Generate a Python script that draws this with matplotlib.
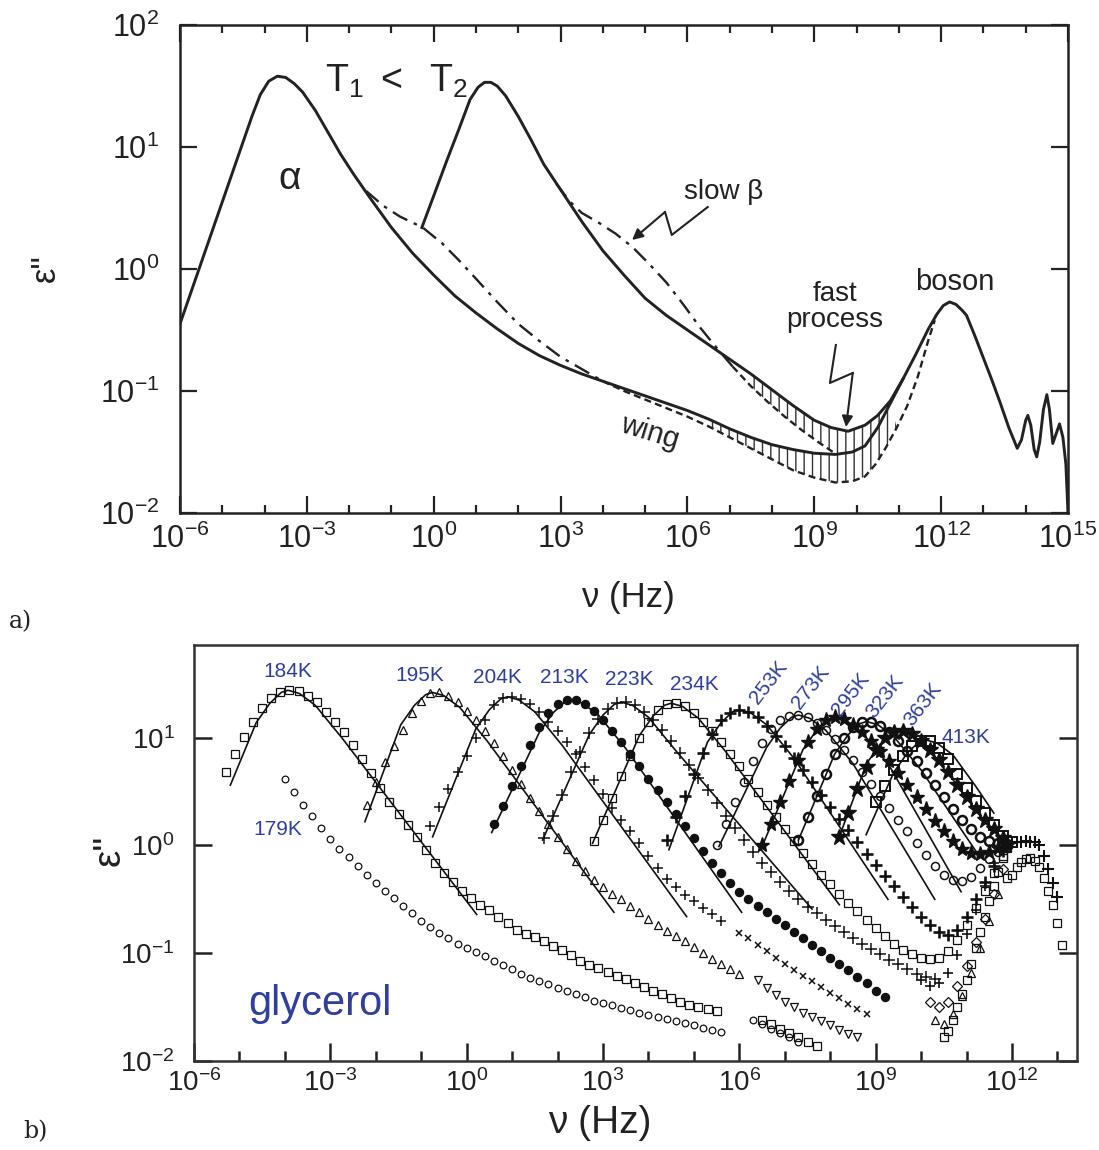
import numpy as np
import matplotlib
matplotlib.use("Agg")
import matplotlib.pyplot as plt
from matplotlib.patches import Polygon
from matplotlib.ticker import FixedLocator, FuncFormatter, NullFormatter

plt.rcParams['font.family'] = ['Liberation Sans', 'DejaVu Sans']
plt.rcParams['mathtext.fontset'] = 'custom'
plt.rcParams['mathtext.rm'] = 'Liberation Sans'
plt.rcParams['mathtext.it'] = 'Liberation Sans:italic'
plt.rcParams['mathtext.default'] = 'regular'
plt.rcParams['hatch.linewidth'] = 1.0

# ---------------------------------------------------------------------------
# Panel a: schematic loss spectra (log10 nu, log10 eps'')
# ---------------------------------------------------------------------------
t1_lognu = [-6.0, -5.5, -5.0, -4.6, -4.3, -4.1, -3.9, -3.7, -3.5, -3.3, -3.1, -2.8, -2.5, -2.2, -1.9,
            -1.5, -1.0, -0.5, 0.0, 0.5, 1.0, 1.5, 2.0, 2.5, 3.0, 3.5, 4.0, 4.5, 5.0, 5.5, 6.0, 6.5,
            7.0, 7.5, 8.0, 8.5, 9.0, 9.5, 9.9, 10.2, 10.5, 10.8, 11.1, 11.4, 11.7, 11.9, 12.05, 12.2,
            12.35, 12.5, 12.6, 12.8, 13.0, 13.2, 13.4, 13.6, 13.8, 13.9, 14.0, 14.05, 14.12, 14.2,
            14.26, 14.33, 14.42, 14.5, 14.56, 14.64, 14.72, 14.8, 14.88, 14.95, 15.0]
t1_logeps = [-0.45, 0.05, 0.55, 0.95, 1.25, 1.43, 1.54, 1.58, 1.57, 1.52, 1.45, 1.30, 1.12, 0.94, 0.78,
             0.58, 0.34, 0.13, -0.05, -0.22, -0.36, -0.49, -0.61, -0.71, -0.79, -0.86, -0.92, -0.98,
             -1.04, -1.10, -1.16, -1.23, -1.31, -1.38, -1.44, -1.48, -1.51, -1.52, -1.50, -1.45, -1.30,
             -1.10, -0.90, -0.70, -0.49, -0.37, -0.30, -0.27, -0.29, -0.34, -0.38, -0.55, -0.73, -0.91,
             -1.10, -1.30, -1.47, -1.40, -1.24, -1.20, -1.28, -1.48, -1.54, -1.42, -1.15, -1.03, -1.15,
             -1.43, -1.35, -1.27, -1.38, -1.60, -2.0]

t2_lognu = [-0.28, 0.0, 0.3, 0.6, 0.86, 1.05, 1.2, 1.35, 1.5, 1.7, 2.0, 2.3, 2.6, 3.0, 3.5, 4.0, 4.5,
            5.0, 5.5, 6.0, 6.5, 7.0, 7.5, 8.0, 8.5, 9.0, 9.4, 9.8, 10.2, 10.5, 10.8, 11.1]
t2_logeps = [0.34, 0.60, 0.88, 1.15, 1.39, 1.49, 1.53, 1.53, 1.50, 1.42, 1.25, 1.06, 0.86, 0.65, 0.39,
             0.15, -0.05, -0.24, -0.38, -0.50, -0.62, -0.74, -0.86, -0.99, -1.12, -1.24, -1.30, -1.33,
             -1.28, -1.20, -1.08, -0.90]

# slow beta contributions (dash-dot) and spectra without fast process (dashed)
t1_beta_lognu = [-1.6, -1.2, -0.8, -0.26, 0.2, 0.6, 1.0, 1.5, 2.0, 2.5, 3.0, 3.5, 4.0]
t1_beta_logeps = [0.64, 0.52, 0.43, 0.34, 0.21, 0.07, -0.08, -0.27, -0.45, -0.59, -0.72, -0.82, -0.92]
t1_nofast_lognu = [4.0, 4.5, 5.0, 5.5, 6.0, 6.5, 7.0, 7.5, 8.0, 8.5, 9.0, 9.5, 9.9, 10.2, 10.45, 10.7,
                   10.95, 11.2, 11.45, 11.7, 11.85]
t1_nofast_logeps = [-0.92, -1.00, -1.07, -1.14, -1.21, -1.29, -1.38, -1.47, -1.56, -1.65, -1.71, -1.75,
                    -1.74, -1.70, -1.60, -1.46, -1.30, -1.12, -0.88, -0.58, -0.42]
t2_beta_lognu = [2.9, 3.2, 3.5, 3.9, 4.3, 4.7, 5.1, 5.5, 5.9, 6.3, 6.7, 7.07]
t2_beta_logeps = [0.70, 0.56, 0.46, 0.38, 0.29, 0.18, 0.04, -0.11, -0.29, -0.48, -0.65, -0.80]
t2_nofast_lognu = [7.07, 7.5, 7.9, 8.3, 8.7, 9.1, 9.44]
t2_nofast_logeps = [-0.80, -0.96, -1.09, -1.21, -1.32, -1.42, -1.50]

# ---------------------------------------------------------------------------
# Panel b: glycerol loss spectra; each set starts at log10(nu0) on a 0.2-decade grid
# ---------------------------------------------------------------------------
STEP = 0.2
g179_start, g179 = -4.0, [0.62, 0.50, 0.38, 0.27, 0.16, 0.06, -0.03, -0.11, -0.19, -0.27, -0.35, -0.42,
                          -0.49, -0.56, -0.63, -0.70, -0.76, -0.81, -0.86, -0.91, -0.95, -0.99, -1.03,
                          -1.07, -1.11, -1.15, -1.19, -1.23, -1.26, -1.29, -1.32, -1.35, -1.38, -1.41,
                          -1.44, -1.46, -1.48, -1.51, -1.53, -1.55, -1.57, -1.59, -1.61, -1.63, -1.65,
                          -1.67, -1.69, -1.71, -1.73]
g179hf_start, g179hf = 6.3, [-1.62, -1.66, -1.70, -1.74, -1.78, -1.82]
g184_start, g184 = -5.3, [0.68, 0.85, 1.01, 1.15, 1.28, 1.37, 1.42, 1.44, 1.43, 1.39, 1.33, 1.24, 1.15,
                          1.05, 0.93, 0.80, 0.67, 0.53, 0.40, 0.29, 0.19, 0.08, -0.04, -0.16, -0.26,
                          -0.34, -0.42, -0.49, -0.55, -0.60, -0.66, -0.72, -0.78, -0.82, -0.85, -0.89,
                          -0.93, -0.97, -1.02, -1.07, -1.11, -1.14, -1.17, -1.21, -1.24, -1.28, -1.31,
                          -1.35, -1.38, -1.42, -1.45, -1.48, -1.50, -1.52, -1.54]
g184hf_start, g184hf = 6.5, [-1.62, -1.66, -1.70, -1.74, -1.78, -1.82, -1.86]
g195_start, g195 = -2.2, [0.38, 0.59, 0.77, 0.92, 1.07, 1.23, 1.34, 1.41, 1.42, 1.39, 1.33, 1.25, 1.16,
                          1.06, 0.95, 0.83, 0.70, 0.57, 0.44, 0.32, 0.20, 0.08, -0.03, -0.14, -0.24,
                          -0.32, -0.39, -0.45, -0.50, -0.56, -0.62, -0.68, -0.74, -0.79, -0.84, -0.89,
                          -0.94, -1.00, -1.05, -1.10, -1.15, -1.19]
g195hf_start, g195hf = 6.4, [-1.25, -1.32, -1.39, -1.45, -1.50, -1.55, -1.59, -1.63, -1.67, -1.71,
                             -1.75, -1.78]
g204_start, g204 = -0.8, [0.18, 0.36, 0.52, 0.68, 0.83, 1.00, 1.16, 1.30, 1.37, 1.38, 1.36, 1.31, 1.24,
                          1.15, 1.06, 0.96, 0.85, 0.73, 0.61, 0.48, 0.35, 0.24, 0.13, 0.02, -0.10,
                          -0.21, -0.31, -0.39, -0.46, -0.52, -0.58, -0.64, -0.70]
g204hf_start, g204hf = 6.0, [-0.81, -0.86, -0.92, -0.98, -1.04, -1.10, -1.16, -1.21, -1.26, -1.31,
                             -1.37, -1.42, -1.47, -1.52, -1.56]
g213_start, g213 = 0.6, [0.20, 0.37, 0.55, 0.74, 0.93, 1.10, 1.23, 1.31, 1.35, 1.35, 1.31, 1.25, 1.16,
                         1.06, 0.96, 0.85, 0.74, 0.62, 0.51, 0.40, 0.29, 0.18, 0.07, -0.05, -0.16,
                         -0.26, -0.35, -0.43, -0.50, -0.56, -0.62, -0.68, -0.74, -0.80, -0.86, -0.92,
                         -0.98, -1.04, -1.10, -1.16, -1.22, -1.28, -1.35, -1.41]
g223_start, g223 = 1.7, [0.07, 0.27, 0.47, 0.68, 0.87, 1.04, 1.17, 1.27, 1.32, 1.33, 1.30, 1.24, 1.16,
                         1.07, 0.97, 0.86, 0.75, 0.63, 0.51, 0.39, 0.27, 0.16, 0.05, -0.06, -0.16,
                         -0.25, -0.34, -0.42, -0.50, -0.57, -0.63, -0.69, -0.75, -0.80, -0.86, -0.91,
                         -0.96, -1.01, -1.06, -1.10, -1.15, -1.19, -1.22, -1.24]
g234_start, g234 = 2.8, [0.04, 0.24, 0.44, 0.64, 0.83, 1.00, 1.15, 1.26, 1.31, 1.32, 1.29, 1.23, 1.15,
                         1.06, 0.96, 0.85, 0.74, 0.62, 0.50, 0.38, 0.26, 0.15, 0.04, -0.07, -0.17,
                         -0.27, -0.36, -0.45, -0.53, -0.61, -0.69, -0.77, -0.84, -0.91, -0.97, -1.01,
                         -1.04, -1.05, -1.04, -0.98, -0.88, -0.74, -0.58, -0.42, -0.26, -0.10]
g253_start, g253 = 4.4, [0.05, 0.26, 0.46, 0.66, 0.86, 1.03, 1.16, 1.23, 1.26, 1.24, 1.19, 1.11, 1.02,
                         0.92, 0.81, 0.70, 0.59, 0.47, 0.36, 0.25, 0.14, 0.03, -0.08, -0.18, -0.28,
                         -0.38, -0.48, -0.57, -0.66, -0.74, -0.80, -0.83, -0.78, -0.66, -0.50, -0.34,
                         -0.19, -0.05]
g273_start, g273 = 5.5, [0.0, 0.2, 0.4, 0.59, 0.78, 0.95, 1.08, 1.16, 1.20, 1.21, 1.19, 1.14, 1.07,
                         0.99, 0.89, 0.79, 0.68, 0.57, 0.46, 0.35, 0.24, 0.13, 0.02, -0.09, -0.19,
                         -0.27, -0.32, -0.33, -0.29, -0.21, -0.13, -0.06, -0.02]
g295_start, g295 = 6.5, [0.0, 0.2, 0.4, 0.6, 0.79, 0.96, 1.08, 1.16, 1.19, 1.17, 1.12, 1.05, 0.97,
                         0.88, 0.78, 0.67, 0.56, 0.45, 0.34, 0.23, 0.13, 0.04, -0.03, -0.07, -0.08,
                         -0.06, -0.02, 0.0]
g323_start, g323 = 7.3, [0.05, 0.26, 0.46, 0.66, 0.85, 1.0, 1.10, 1.15, 1.15, 1.11, 1.05, 0.97, 0.88,
                         0.78, 0.67, 0.56, 0.45, 0.34, 0.24, 0.15, 0.08, 0.04, 0.02, 0.01]
g363_start, g363 = 8.2, [0.08, 0.3, 0.52, 0.73, 0.89, 1.0, 1.05, 1.06, 1.03, 0.97, 0.89, 0.79, 0.68,
                         0.56, 0.45, 0.34, 0.24, 0.15, 0.07]
g413_start, g413 = 9.0, [0.40, 0.55, 0.70, 0.83, 0.92, 0.97, 0.97, 0.90, 0.80, 0.66, 0.53, 0.41, 0.30,
                         0.19, 0.09, 0.03]

# far-infrared / THz data
STEP_FIR = 0.1
fir_sq_start, fir_sq = 10.5, [-1.78, -1.72, -1.62, -1.50, -1.38, -1.25, -1.10, -0.95, -0.80, -0.66,
                              -0.52, -0.38, -0.25, -0.12, -0.02]
fir_dia_start, fir_dia = 10.2, [-1.45, -1.50, -1.45, -1.30, -1.12, -0.90, -0.68, -0.45, -0.22]
fir_tri_start, fir_tri = 10.3, [-1.62, -1.66, -1.56, -1.40, -1.18, -0.95, -0.70, -0.45]
fir_plus_start, fir_plus = 10.0, [-1.25, -1.30, -1.28, -1.18, -1.02, -0.82, -0.60, -0.38, -0.16]
thz_plus_start, thz_plus = 11.9, [0.0, 0.02, 0.03, 0.03, 0.04, 0.03, 0.03, 0.0, -0.1, -0.22, -0.35,
                                  -0.48]
thz_sq_start, thz_sq = 11.9, [-0.30, -0.27, -0.20, -0.15, -0.13, -0.12, -0.14, -0.20, -0.30, -0.42,
                              -0.55, -0.72, -0.92]

# model fits (log10 nu, log10 eps'')
fits = {
    184: ([-5.2, -4.63, -4.33, -4.08, -3.93, -3.68, -3.33, -2.73, 0.22],
          [0.56, 1.14, 1.32, 1.42, 1.44, 1.41, 1.30, 0.99, -0.64]),
    195: ([-2.24, -1.45, -1.15, -0.9, -0.75, -0.5, -0.15, 0.45, 3.24],
          [0.22, 1.12, 1.30, 1.40, 1.42, 1.39, 1.28, 0.97, -0.62]),
    204: ([-0.75, 0.2, 0.5, 0.75, 0.9, 1.15, 1.5, 2.1, 4.84],
          [0.08, 1.08, 1.26, 1.36, 1.38, 1.35, 1.24, 0.93, -0.66]),
    213: ([0.55, 1.6, 1.9, 2.15, 2.3, 2.55, 2.9, 3.5, 6.05],
          [0.12, 1.05, 1.23, 1.33, 1.35, 1.32, 1.21, 0.90, -0.62]),
    223: ([1.67, 2.7, 3.0, 3.25, 3.4, 3.65, 4.0, 4.6, 7.6],
          [0.05, 1.03, 1.21, 1.31, 1.33, 1.30, 1.19, 0.88, -0.59]),
    234: ([2.77, 3.8, 4.1, 4.35, 4.5, 4.75, 5.1, 5.7, 8.2],
          [0.02, 1.02, 1.20, 1.30, 1.32, 1.29, 1.18, 0.87, -0.55]),
    253: ([4.45, 5.3, 5.6, 5.85, 6.0, 6.25, 6.6, 7.2, 9.27],
          [-0.04, 0.96, 1.14, 1.24, 1.26, 1.23, 1.12, 0.81, -0.50]),
    273: ([5.55, 6.6, 6.9, 7.15, 7.3, 7.55, 7.9, 8.5, 10.3],
          [-0.01, 0.91, 1.09, 1.19, 1.21, 1.18, 1.07, 0.76, -0.50]),
    295: ([6.53, 7.4, 7.7, 7.95, 8.1, 8.35, 8.7, 9.3, 10.88],
          [0.02, 0.89, 1.07, 1.17, 1.19, 1.16, 1.05, 0.74, -0.43]),
    323: ([7.3, 8.1, 8.4, 8.65, 8.8, 9.05, 9.4, 10.0, 11.2],
          [0.05, 0.85, 1.03, 1.13, 1.15, 1.12, 1.01, 0.70, -0.05]),
    363: ([8.18, 8.8, 9.1, 9.35, 9.5, 9.75, 10.1, 10.7, 11.4],
          [0.06, 0.76, 0.94, 1.04, 1.06, 1.03, 0.92, 0.61, 0.22]),
    413: ([8.79, 9.4, 9.7, 9.95, 10.1, 10.35, 10.7, 11.2, 11.6],
          [0.10, 0.68, 0.86, 0.96, 0.98, 0.95, 0.84, 0.55, 0.30]),
}

temp_labels = ['184K', '195K', '204K', '213K', '223K', '234K', '253K', '273K', '295K', '323K',
               '363K', '413K', '179K']
label_lognu = [-3.93, -1.03, 0.68, 2.15, 3.57, 5.0, 6.64, 7.56, 8.46, 9.21, 10.04, 10.98, -4.15]
label_logeps = [1.61, 1.58, 1.56, 1.56, 1.54, 1.49, 1.51, 1.47, 1.40, 1.38, 1.31, 1.0, 0.15]
label_rot = [0, 0, 0, 0, 0, 0, 52, 52, 52, 52, 52, 0, 0]

BLUE = '#2f3f9e'


def lg(v):
    return 10.0 ** np.asarray(v, dtype=float)


def grid(start, n, step):
    return 10.0 ** (start + step * np.arange(n))


def sci(v, pos):
    return r'$10^{%d}$' % int(round(np.log10(v)))


fig = plt.figure(figsize=(10.99, 11.5), dpi=100)

# ------------------------------- panel a ----------------------------------
ax1 = fig.add_axes([180 / 1099, 1 - 513 / 1150, 888 / 1099, 488 / 1150])
ax1.set_xscale('log')
ax1.set_yscale('log')
ax1.set_xlim(1e-6, 1e15)
ax1.set_ylim(1e-2, 1e2)

INK = '#222222'
lw = 2.1
ax1.plot(lg(t1_lognu), lg(t1_logeps), color=INK, lw=lw, solid_joinstyle='round')
ax1.plot(lg(t2_lognu), lg(t2_logeps), color=INK, lw=lw, solid_joinstyle='round')
dashdot = (0, (7, 3, 1.5, 3))
ax1.plot(lg(t1_beta_lognu), lg(t1_beta_logeps), color=INK, lw=1.7, linestyle=dashdot)
ax1.plot(lg(t2_beta_lognu), lg(t2_beta_logeps), color=INK, lw=1.7, linestyle=dashdot)
ax1.plot(lg(t1_nofast_lognu), lg(t1_nofast_logeps), color=INK, lw=1.7, linestyle=(0, (3, 1.8)))
ax1.plot(lg(t2_nofast_lognu), lg(t2_nofast_logeps), color=INK, lw=1.7, linestyle=(0, (3, 1.8)))

# hatched regions: contribution of the fast process
t1x, t1y = np.array(t1_lognu), np.array(t1_logeps)
t2x, t2y = np.array(t2_lognu), np.array(t2_logeps)
n2x, n2y = np.array(t2_nofast_lognu), np.array(t2_nofast_logeps)
n1x, n1y = np.array(t1_nofast_lognu), np.array(t1_nofast_logeps)

m = (t2x >= 7.5) & (t2x <= 10.8)
top = np.column_stack([t2x[m], t2y[m]])
mb1 = (n2x >= 7.5)
mb2 = (t1x > 9.44) & (t1x <= 10.8)
bot = np.vstack([np.column_stack([n2x[mb1], n2y[mb1]]), np.column_stack([t1x[mb2], t1y[mb2]])])
poly = np.vstack([top, bot[::-1]])
ax1.add_patch(Polygon(10.0 ** poly, closed=True, fill=False, hatch='||', edgecolor='#333333', lw=0))

m = (t1x >= 6.5) & (t1x <= 10.95)
top = np.column_stack([t1x[m], t1y[m]])
mb = (n1x >= 6.5) & (n1x <= 10.95)
bot = np.column_stack([n1x[mb], n1y[mb]])
poly = np.vstack([top, bot[::-1]])
ax1.add_patch(Polygon(10.0 ** poly, closed=True, fill=False, hatch='||', edgecolor='#333333', lw=0))

ax1.xaxis.set_major_locator(FixedLocator(10.0 ** np.arange(-6, 16, 3)))
ax1.xaxis.set_minor_locator(FixedLocator(10.0 ** np.arange(-6, 16, 1)))
ax1.xaxis.set_major_formatter(FuncFormatter(sci))
ax1.xaxis.set_minor_formatter(NullFormatter())
ax1.yaxis.set_major_locator(FixedLocator(10.0 ** np.arange(-2, 3)))
ax1.yaxis.set_minor_locator(FixedLocator([]))
ax1.yaxis.set_major_formatter(FuncFormatter(sci))
ax1.tick_params(which='both', direction='in', top=True, right=True, width=1.6, colors=INK)
ax1.tick_params(which='major', length=12, labelsize=22)
ax1.tick_params(which='minor', length=6)
ax1.tick_params(axis='x', pad=8)
ax1.tick_params(axis='y', pad=15)
for s in ax1.spines.values():
    s.set_linewidth(1.8)
    s.set_color(INK)

ax1.text(10 ** -2.57, 10 ** 1.45, r'$T_1\ <\ \ T_2$', fontsize=27, ha='left', va='baseline', color=INK)
ax1.text(10 ** -3.4, 10 ** 0.74, 'α', fontsize=28, ha='center', va='center', color=INK)
ax1.text(10 ** 6.85, 10 ** 0.63, 'slow β', fontsize=20, ha='center', va='center', color=INK)
ax1.text(10 ** 9.48, 10 ** -0.31, 'fast\nprocess', fontsize=20, ha='center', va='center',
         linespacing=1.0, color=INK)
ax1.text(10 ** 12.32, 10 ** -0.11, 'boson', fontsize=21, ha='center', va='center', color=INK)
ax1.text(10 ** 5.11, 10 ** -1.34, 'wing', fontsize=21, ha='center', va='center', rotation=-17, color=INK)

# squiggly pointers
sq1x, sq1y = [6.48, 5.63, 5.47], [0.508, 0.279, 0.467]
ax1.plot(lg(sq1x), lg(sq1y), color=INK, lw=1.5)
ax1.annotate('', xy=(10 ** 4.69, 10 ** 0.238), xytext=(10 ** 5.47, 10 ** 0.467),
             arrowprops=dict(arrowstyle='-|>', color=INK, lw=1.5, mutation_scale=16,
                             shrinkA=0, shrinkB=0))
sq2x, sq2y = [9.51, 9.37, 9.91], [-0.623, -0.934, -0.852]
ax1.plot(lg(sq2x), lg(sq2y), color=INK, lw=1.5)
ax1.annotate('', xy=(10 ** 9.75, 10 ** -1.295), xytext=(10 ** 9.91, 10 ** -0.852),
             arrowprops=dict(arrowstyle='-|>', color=INK, lw=1.5, mutation_scale=16,
                             shrinkA=0, shrinkB=0))

fig.text(628 / 1099, 1 - 598 / 1150, 'ν (Hz)', fontsize=25, ha='center', va='center', color=INK)
fig.text(45 / 1099, 1 - 268 / 1150, 'ε"', fontsize=25, rotation=90, ha='center', va='center',
         color=INK)
fig.text(20 / 1099, 1 - 622 / 1150, 'a)', fontsize=17, family='DejaVu Serif', ha='center',
         va='center', color=INK)

# ------------------------------- panel b ----------------------------------
ax2 = fig.add_axes([194 / 1099, 1 - 1061 / 1150, 883 / 1099, 416 / 1150])
ax2.set_xscale('log')
ax2.set_yscale('log')
ax2.set_xlim(1e-6, 10 ** 13.43)
ax2.set_ylim(1e-2, 10 ** 1.86)

K = '#111111'
open_kw = dict(mfc='none', mec=K, mew=0.9, ls='none')


def data(start, vals, step, **kw):
    ax2.plot(grid(start, len(vals), step), lg(vals), **kw)


data(g179_start, g179, STEP, marker='o', ms=4.8, **open_kw)
data(g179hf_start, g179hf, STEP, marker='o', ms=4.8, **open_kw)
data(g184_start, g184, STEP, marker='s', ms=5.2, **open_kw)
data(g184hf_start, g184hf, STEP, marker='s', ms=5.2, **open_kw)
data(g195_start, g195, STEP, marker='^', ms=5.8, **open_kw)
data(g195hf_start, g195hf, STEP, marker='v', ms=5.8, **open_kw)
data(g204_start, g204, STEP, marker='+', ms=7, mec=K, mew=1.1, ls='none')
data(g204hf_start, g204hf, STEP, marker='x', ms=5, mec=K, mew=1.1, ls='none')
data(g213_start, g213, STEP, marker='o', ms=5.8, mfc=K, mec=K, ls='none')
data(g223_start, g223, STEP, marker='+', ms=8, mec=K, mew=1.1, ls='none')
data(g234_start, g234, STEP, marker='s', ms=5.8, **open_kw)
data(g253_start, g253, STEP, marker='+', ms=9, mec=K, mew=1.9, ls='none')
data(g273_start, g273, STEP, marker='o', ms=5.8, mfc='none', mec=K, mew=1.1, ls='none')
data(g295_start, g295, STEP, marker='*', ms=11, mfc=K, mec=K, ls='none')
data(g323_start, g323, STEP, marker='o', ms=6.5, mfc='none', mec=K, mew=1.8, ls='none')
data(g363_start, g363, STEP, marker='*', ms=12, mfc=K, mec=K, ls='none')
data(g413_start, g413, STEP, marker='s', ms=6.5, mfc='none', mec=K, mew=1.4, ls='none')
data(fir_sq_start, fir_sq, STEP_FIR, marker='s', ms=5.2, **open_kw)
data(fir_dia_start, fir_dia, STEP, marker='D', ms=5.5, **open_kw)
data(fir_tri_start, fir_tri, STEP, marker='^', ms=5.5, **open_kw)
data(fir_plus_start, fir_plus, STEP, marker='+', ms=7, mec=K, mew=1.2, ls='none')
data(thz_plus_start, thz_plus, STEP_FIR, marker='+', ms=8, mec=K, mew=1.5, ls='none')
data(thz_sq_start, thz_sq, STEP_FIR, marker='s', ms=5.5, **open_kw)

for T, (fx, fy) in fits.items():
    ax2.plot(lg(fx), lg(fy), color=K, lw=1.2)

for lab, lx, ly, rot in zip(temp_labels, label_lognu, label_logeps, label_rot):
    ax2.text(10 ** lx, 10 ** ly, lab, color=BLUE, fontsize=15, ha='center', va='center',
             rotation=rot)
ax2.text(10 ** -3.22, 10 ** -1.47, 'glycerol', color=BLUE, fontsize=30, ha='center', va='center')

ax2.xaxis.set_major_locator(FixedLocator(10.0 ** np.arange(-6, 13, 3)))
ax2.xaxis.set_minor_locator(FixedLocator(10.0 ** np.arange(-6, 14, 1)))
ax2.xaxis.set_major_formatter(FuncFormatter(sci))
ax2.xaxis.set_minor_formatter(NullFormatter())
ax2.yaxis.set_major_locator(FixedLocator(10.0 ** np.arange(-2, 2)))
ax2.yaxis.set_minor_locator(FixedLocator([]))
ax2.yaxis.set_major_formatter(FuncFormatter(sci))
ax2.tick_params(which='both', direction='in', top=False, right=True, width=1.8, colors=INK)
ax2.tick_params(which='major', length=13, labelsize=20)
ax2.tick_params(which='minor', length=7)
ax2.tick_params(axis='x', pad=6)
ax2.tick_params(axis='y', pad=14)
for s in ax2.spines.values():
    s.set_linewidth(1.8)
    s.set_color('#333333')

fig.text(600 / 1099, 1 - 1123 / 1150, 'ν (Hz)', fontsize=28, ha='center', va='center', color=INK)
fig.text(110 / 1099, 1 - 850 / 1150, 'ε"', fontsize=28, rotation=90, ha='center', va='center',
         color=INK)
fig.text(35 / 1099, 1 - 1132 / 1150, 'b)', fontsize=17, family='DejaVu Serif', ha='center',
         va='center', color=INK)

fig.savefig('out.png', dpi=100, facecolor='white')
